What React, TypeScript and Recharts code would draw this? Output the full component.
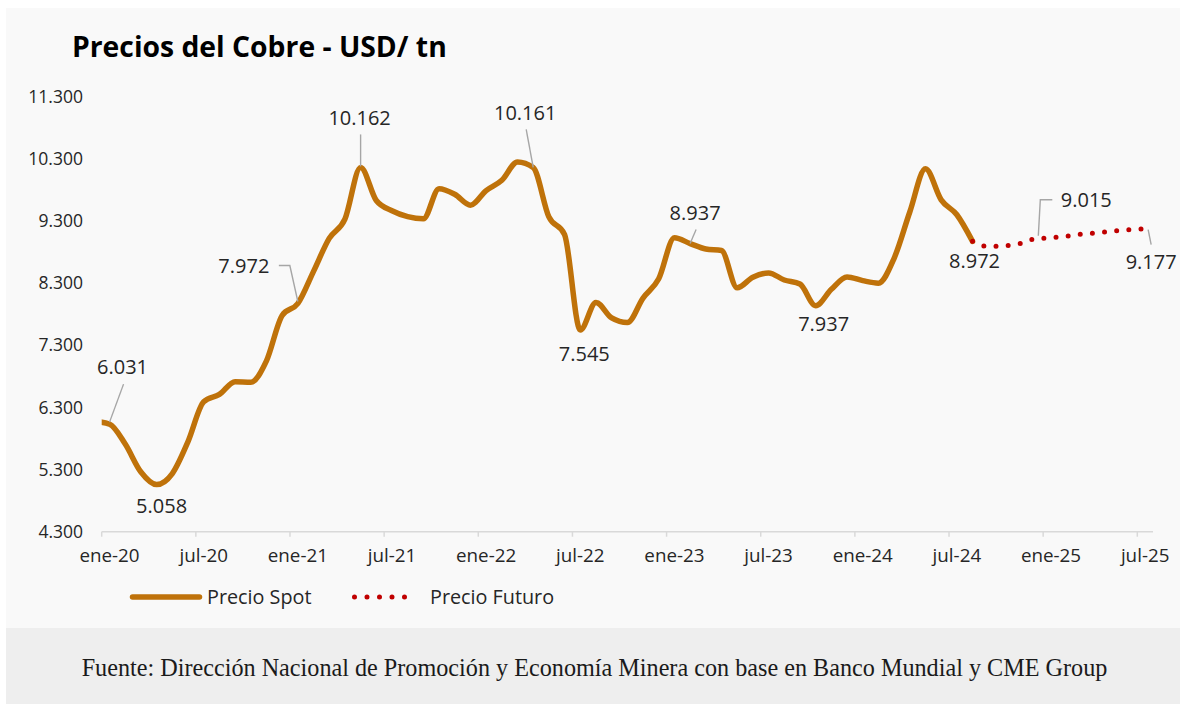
import React from 'react';
import { LineChart, Line, XAxis, YAxis, ReferenceDot } from 'recharts';

const MESES = ['ene', 'feb', 'mar', 'abr', 'may', 'jun', 'jul', 'ago', 'sep', 'oct', 'nov', 'dic'];

// precio spot mensual, dic-19 .. ago-24 (USD/tn)
const PRECIO_SPOT = [
  6077,
  6031, 5710, 5260, 5058, 5236, 5750, 6390, 6510, 6715, 6705, 7050, 7780,
  7972, 8490, 9020, 9330, 10162, 9630, 9465, 9370, 9335, 9820, 9730, 9555,
  9790, 9955, 10250, 10161, 9365, 9080, 7545, 7990, 7740, 7665, 8060, 8370,
  9030, 8937, 8850, 8825, 8225, 8395, 8465, 8350, 8285, 7937, 8200, 8400,
  8340, 8300, 8700, 9445, 10140, 9640, 9400, 8972,
];

// precio futuro CME, ago-24 .. jul-25
const PRECIO_FUTURO = [8972, 8890, 8900, 8935, 9015, 9030, 9055, 9090, 9112, 9138, 9160, 9177];

const INICIO_SPOT = -1; // dic-19
const INICIO_FUTURO = 55; // ago-24
const ULTIMO_MES = 66; // jul-25

const TICKS_Y = [4300, 5300, 6300, 7300, 8300, 9300, 10300, 11300];
const TICKS_X = [0, 6, 12, 18, 24, 30, 36, 42, 48, 54, 60, 66];

// valores marcados en el gráfico
const ETIQUETAS = [
  { serie: 'spot', i: 0 },
  { serie: 'spot', i: 3 },
  { serie: 'spot', i: 12 },
  { serie: 'spot', i: 16 },
  { serie: 'spot', i: 27 },
  { serie: 'spot', i: 30 },
  { serie: 'spot', i: 37 },
  { serie: 'spot', i: 45 },
  { serie: 'spot', i: 55 },
  { serie: 'futuro', i: 59 },
  { serie: 'futuro', i: 66 },
];

// ubicación de cada etiqueta respecto del punto (px) y línea guía
const UBICACION: Record<string, { dx: number; dy: number; guia?: number[][] }> = {
  'spot-0': { dx: 13, dy: -57, guia: [[14, -40], [0, -2]] },
  'spot-3': { dx: 5, dy: 21 },
  'spot-12': { dx: -54, dy: -38, guia: [[0, -2], [-8, -38], [-19, -38]] },
  'spot-16': { dx: -1, dy: -50, guia: [[0, -33], [0, -1]] },
  'spot-27': { dx: -8, dy: -55, guia: [[-7, -38], [0, 0]] },
  'spot-30': { dx: 4, dy: 24 },
  'spot-37': { dx: 5, dy: -31, guia: [[6, -14], [0, 0]] },
  'spot-45': { dx: 8, dy: 18 },
  'spot-55': { dx: 2, dy: 19 },
  'futuro-59': { dx: 51, dy: -39, guia: [[17, -39], [5, -39], [3, -3]] },
  'futuro-66': { dx: 6, dy: 33, guia: [[3, 1], [6, 16]] },
};

const COLOR_SPOT = '#bf720a';
const COLOR_FUTURO = '#c00000';
const TEXTO = '#262626';
const FUENTE = '"Open Sans", "Noto Sans", sans-serif';

const W = 1183;
const H = 704;
const PLOT_LEFT = 101.7;
const PLOT_RIGHT = 1153;
const PLOT_TOP = 96.7;
const PLOT_BOTTOM = 531.7;
const ALTO_EJE_X = 40;
const MEDIO_MES = (PLOT_RIGHT - PLOT_LEFT) / (ULTIMO_MES - INICIO_SPOT) / 2;

const miles = (v: number) => String(Math.round(v)).replace(/\B(?=(\d{3})+(?!\d))/g, '.');

const etiquetaMes = (i: number) => {
  const m = ((i % 12) + 12) % 12;
  const anio = 2020 + Math.floor(i / 12);
  return `${MESES[m]}-${String(anio).slice(2)}`;
};

const data: { i: number; mes: string; spot: number | null; futuro: number | null }[] = [];
for (let i = INICIO_SPOT; i <= ULTIMO_MES; i++) {
  const s = PRECIO_SPOT[i - INICIO_SPOT];
  const f = PRECIO_FUTURO[i - INICIO_FUTURO];
  data.push({ i, mes: etiquetaMes(i), spot: s ?? null, futuro: f ?? null });
}

const valorDe = (serie: string, i: number) =>
  serie === 'spot' ? PRECIO_SPOT[i - INICIO_SPOT] : PRECIO_FUTURO[i - INICIO_FUTURO];

function TickX(props: any) {
  const { x, y, payload } = props;
  return (
    <g>
      <line x1={x - MEDIO_MES} x2={x - MEDIO_MES} y1={y} y2={y + 5} stroke="#d9d9d9" strokeWidth={1.5} />
      <text x={x} y={y + 30} textAnchor="middle" fill={TEXTO} fontSize={18.8} fontFamily={FUENTE}>
        {etiquetaMes(payload.value)}
      </text>
    </g>
  );
}

function Anotacion({ cx, cy, valor, clave }: { cx: number; cy: number; valor: number; clave: string }) {
  const u = UBICACION[clave];
  if (cx == null || cy == null || !u) return null;
  const fs = 20;
  return (
    <g>
      {u.guia && (
        <polyline
          points={u.guia.map(([gx, gy]) => `${cx + gx},${cy + gy}`).join(' ')}
          fill="none"
          stroke="#a6a6a6"
          strokeWidth={1.4}
        />
      )}
      <text x={cx + u.dx} y={cy + u.dy + fs * 0.357} textAnchor="middle" fill={TEXTO} fontSize={fs} fontFamily={FUENTE}>
        {miles(valor)}
      </text>
    </g>
  );
}

export default function App() {
  return (
    <div style={{ position: 'absolute', left: 0, top: 0, width: W, height: H, overflow: 'hidden', background: '#fff' }}>
      {/* fondo del gráfico y pie */}
      <div style={{ position: 'absolute', left: 6, top: 8, width: 1174, height: 620, background: '#f9f9f9' }} />
      <div style={{ position: 'absolute', left: 6, top: 628, width: 1174, height: 76, background: '#eeeeee' }} />

      <svg width={W} height={H} style={{ position: 'absolute', left: 0, top: 0 }}>
        <text x={72} y={56.5} fontSize={28.3} fontWeight={700} fill="#000" fontFamily={FUENTE}>
          Precios del Cobre - USD/ tn
        </text>

        {/* leyenda */}
        <line x1={132.5} x2={199.5} y1={597} y2={597} stroke={COLOR_SPOT} strokeWidth={5.5} strokeLinecap="round" />
        <text x={207} y={603.8} fontSize={19.8} fill={TEXTO} fontFamily={FUENTE}>Precio Spot</text>
        <line x1={354.5} x2={417} y1={597} y2={597} stroke={COLOR_FUTURO} strokeWidth={5} strokeLinecap="round" strokeDasharray="0 12.5" />
        <text x={430} y={603.8} fontSize={19.8} fill={TEXTO} fontFamily={FUENTE}>Precio Futuro</text>

        <text x={594.5} y={675.5} textAnchor="middle" fontSize={24.2} fill="#1a1a1a" fontFamily='"Liberation Serif", serif'>
          Fuente: Dirección Nacional de Promoción y Economía Minera con base en Banco Mundial y CME Group
        </text>
      </svg>

      <div style={{ position: 'absolute', left: 0, top: 0 }}>
        <LineChart
          width={W}
          height={H}
          data={data}
          margin={{ top: PLOT_TOP, right: W - PLOT_RIGHT, bottom: H - PLOT_BOTTOM - ALTO_EJE_X, left: 0 }}
        >
          <XAxis
            dataKey="i"
            type="number"
            domain={[INICIO_SPOT + 0.5, ULTIMO_MES + 0.5]}
            allowDataOverflow
            ticks={TICKS_X}
            interval={0}
            height={ALTO_EJE_X}
            tickSize={0}
            tickMargin={0}
            tickLine={false}
            axisLine={{ stroke: '#d9d9d9', strokeWidth: 1.5 }}
            tick={<TickX />}
          />
          <YAxis
            type="number"
            domain={[4300, 11300]}
            ticks={TICKS_Y}
            interval={0}
            width={PLOT_LEFT}
            axisLine={false}
            tickLine={false}
            tickSize={0}
            tickMargin={18.7}
            tickFormatter={miles}
            tick={{ fill: TEXTO, fontSize: 17.5, fontFamily: FUENTE }}
          />
          <Line
            dataKey="spot"
            type="monotone"
            stroke={COLOR_SPOT}
            strokeWidth={5.5}
            strokeLinecap="round"
            strokeLinejoin="round"
            dot={false}
            activeDot={false}
            isAnimationActive={false}
          />
          <Line
            dataKey="futuro"
            type="monotone"
            stroke={COLOR_FUTURO}
            strokeWidth={5}
            strokeLinecap="round"
            strokeDasharray="0 12.2"
            dot={false}
            activeDot={false}
            isAnimationActive={false}
          />
          {ETIQUETAS.map((e) => {
            const v = valorDe(e.serie, e.i);
            const clave = `${e.serie}-${e.i}`;
            return (
              <ReferenceDot
                key={clave}
                x={e.i}
                y={v}
                r={0}
                ifOverflow="visible"
                shape={(p: any) => <Anotacion cx={p.cx} cy={p.cy} valor={v} clave={clave} />}
              />
            );
          })}
        </LineChart>
      </div>
    </div>
  );
}
